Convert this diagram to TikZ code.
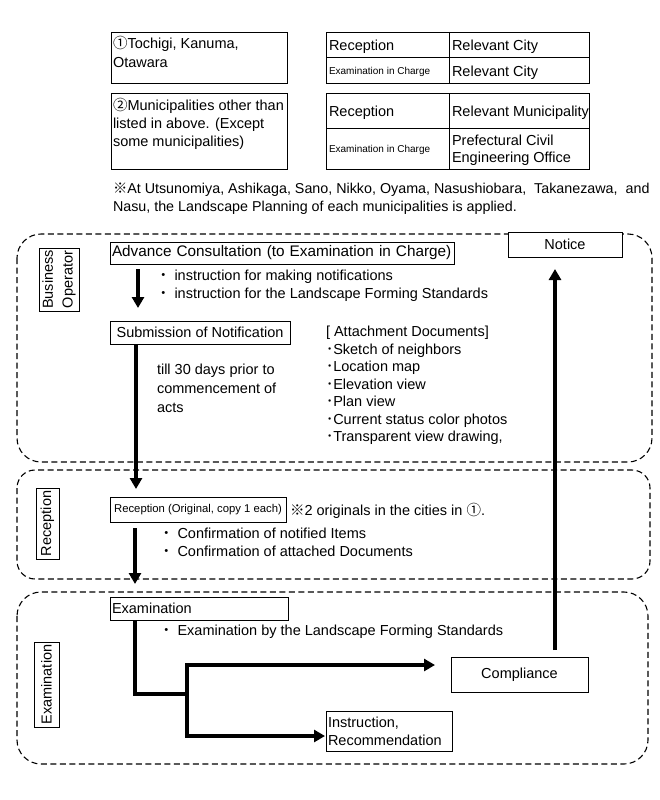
\documentclass[tikz,border=0pt]{standalone}
\usepackage{fontspec}
\setmainfont{Liberation Sans}
\newfontfamily\cjk{Noto Sans CJK JP}
\usetikzlibrary{arrows.meta}
\newcommand{\fs}[2]{\fontsize{#1}{#2}\selectfont}
\begin{document}
\begin{tikzpicture}[x=1pt,y=-1pt,
  every node/.style={inner sep=0pt,outer sep=0pt},
  tx/.style={font=\fs{14.5}{18}, anchor=base west},
  sm/.style={font=\fs{10}{12}, anchor=base west},
  ml/.style={font=\fs{14.5}{#1}, anchor=north west, align=left},
  bx/.style={draw, line width=0.8pt, fill=white, font=\fs{14.5}{18}},
  lab/.style={draw, line width=0.8pt, fill=white, rotate=90, align=center, font=\fs{14.5}{20}},
  region/.style={draw, line width=1.1pt, dash pattern=on 6pt off 3.5pt},
  thin/.style={line width=0.8pt},
  arr/.style={line width=3.6pt, -{Triangle[length=11pt,width=12pt]}},
  wire/.style={line width=3.6pt}
]
\useasboundingbox (0,0) rectangle (660,800);
\fill[white] (0,0) rectangle (660,800);

% ---- top tables ----
\draw[thin] (111,32) rectangle (287,83);
\draw[thin] (111,93) rectangle (287,169);
\draw[thin] (326,32) rectangle (589,83) (326,57) -- (589,57) (449,32) -- (449,83);
\draw[thin] (326,93) rectangle (589,169) (326,128) -- (589,128) (449,93) -- (449,169);

\node[ml=19] (c1) at (113,36.4) {{\cjk ①}Tochigi, Kanuma,\\Otawara};
\node[ml=18] (c2) at (113,98.4) {{\cjk ②}Municipalities other than\\listed in above. (Except\\some municipalities)};
\node[tx] (r1a) at (329,51) {Reception};
\node[tx] (r1b) at (452,51) {Relevant City};
\node[sm] (r2a) at (329,74.5) {Examination in Charge};
\node[tx] (r2b) at (452,76) {Relevant City};
\node[tx] (s1a) at (329,116) {Reception};
\node[tx] (s1b) at (452,116) {Relevant Municipality};
\node[sm] (s2a) at (329,152.5) {Examination in Charge};
\node[ml=17] (s2b) at (452,135.4) {Prefectural Civil\\Engineering Office};
\node[ml=18, font=\fs{14.3}{18}] (note) at (113,183.4) {{\cjk ※}At Utsunomiya, Ashikaga, Sano, Nikko, Oyama, Nasushiobara,\ \ Takanezawa,\ \ and\\Nasu, the Landscape Planning of each municipalities is applied.};

% ---- regions ----
\draw[region, rounded corners=24pt] (17,234) rectangle (652,462);
\draw[region, rounded corners=18pt] (17,470) rectangle (650,579);
\draw[region, rounded corners=24pt] (17,592) rectangle (648,764);

% ---- lane labels ----
\node[lab, minimum width=63pt, minimum height=40pt] (lbo) at (59,279.5) {Business\\Operator};
\node[lab, minimum width=71pt, minimum height=23pt] (lrc) at (47.5,523.5) {Reception};
\node[lab, minimum width=85pt, minimum height=25pt] (lex) at (46.5,684.5) {Examination};

% ---- boxes ----
\node[bx, minimum width=344pt, minimum height=22pt, text width=340pt, align=left, font=\fs{15.3}{18}] (adv) at (282,253) {Advance Consultation (to Examination in Charge)};
\node[bx, minimum width=180pt, minimum height=23pt] (sub) at (200,332.5) {Submission of Notification};
\node[bx, minimum width=176pt, minimum height=25pt, font=\fs{11.3}{13}] (rec) at (198,509.5) {Reception (Original, copy 1 each)};
\node[bx, minimum width=178pt, minimum height=23pt, text width=174pt, align=left] (exa) at (199,608.5) {Examination};
\node[bx, minimum width=114pt, minimum height=25pt] (ntc) at (565,244.5) {Notice};
\node[bx, minimum width=137pt, minimum height=35pt] (cmp) at (519.5,674.5) {Compliance};
\node[bx, minimum width=126pt, minimum height=40pt, text width=122pt, align=left] (ins) at (389,731) {Instruction,\\Recommendation};

% ---- free texts ----
\node[tx] (b1) at (156,280) {{\cjk ・} instruction for making notifications};
\node[tx] (b2) at (156,298) {{\cjk ・} instruction for the Landscape Forming Standards};
\node[ml=19] (till) at (157,364.4) {till 30 days prior to\\commencement of\\acts};
\node[ml=17.5] (att) at (326,326.4) {[ Attachment Documents]\\{\cjk ･}Sketch of neighbors\\{\cjk ･}Location map\\{\cjk ･}Elevation view\\{\cjk ･}Plan view\\{\cjk ･}Current status color photos\\{\cjk ･}Transparent view drawing,};
\node[tx] (r2o) at (290,515) {{\cjk ※}2 originals in the cities in {\cjk ①}.};
\node[tx] (cf1) at (159,538) {{\cjk ・} Confirmation of notified Items};
\node[tx] (cf2) at (159,556) {{\cjk ・} Confirmation of attached Documents};
\node[tx] (exb) at (159,635) {{\cjk ・} Examination by the Landscape Forming Standards};

% ---- connectors ----
\draw[arr] ([xshift=28pt,yshift=-5pt]adv.south west) -- ([xshift=28pt,yshift=13pt]sub.north west);
\draw[arr] ([xshift=26pt]sub.south west) -- ([xshift=26pt,yshift=8pt]rec.north west);
\draw[arr] ([xshift=25pt,yshift=-6pt]rec.south west) -- ([xshift=25pt,yshift=13pt]exa.north west);
\coordinate (j1) at (187,694);
\draw[arr] ([xshift=25pt]exa.south west) |- (j1) |- ([xshift=-16pt,yshift=9.5pt]cmp.west);
\draw[arr] (j1) |- ([xshift=-1pt,yshift=-5pt]ins.west);
\draw[arr] ([xshift=35.5pt,yshift=7pt]cmp.north) -- ([xshift=-10pt,yshift=-12pt]ntc.south);
\end{tikzpicture}
\end{document}
